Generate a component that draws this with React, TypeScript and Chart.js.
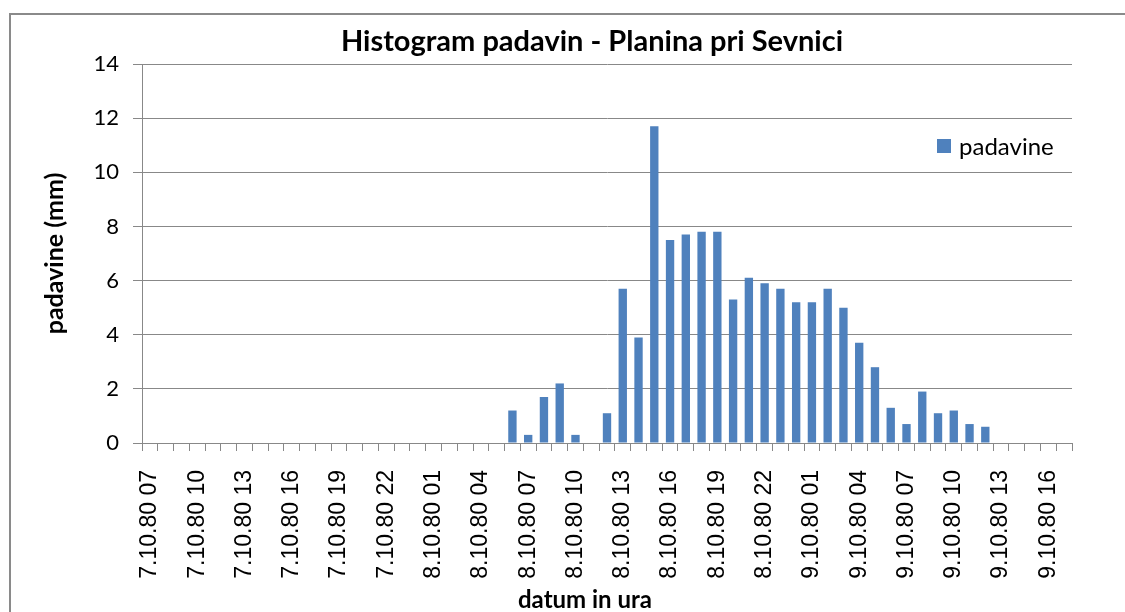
import React, { useEffect, useRef } from "react";
import { Chart, registerables } from "chart.js";

Chart.register(...registerables);

const categories: string[] = [
  "7.10.80 07", "7.10.80 08", "7.10.80 09", "7.10.80 10", "7.10.80 11", "7.10.80 12",
  "7.10.80 13", "7.10.80 14", "7.10.80 15", "7.10.80 16", "7.10.80 17", "7.10.80 18",
  "7.10.80 19", "7.10.80 20", "7.10.80 21", "7.10.80 22", "7.10.80 23", "8.10.80 00",
  "8.10.80 01", "8.10.80 02", "8.10.80 03", "8.10.80 04", "8.10.80 05", "8.10.80 06",
  "8.10.80 07", "8.10.80 08", "8.10.80 09", "8.10.80 10", "8.10.80 11", "8.10.80 12",
  "8.10.80 13", "8.10.80 14", "8.10.80 15", "8.10.80 16", "8.10.80 17", "8.10.80 18",
  "8.10.80 19", "8.10.80 20", "8.10.80 21", "8.10.80 22", "8.10.80 23", "9.10.80 00",
  "9.10.80 01", "9.10.80 02", "9.10.80 03", "9.10.80 04", "9.10.80 05", "9.10.80 06",
  "9.10.80 07", "9.10.80 08", "9.10.80 09", "9.10.80 10", "9.10.80 11", "9.10.80 12",
  "9.10.80 13", "9.10.80 14", "9.10.80 15", "9.10.80 16", "9.10.80 17",
];

const padavine: number[] = [
  0, 0, 0, 0, 0, 0, 0, 0, 0, 0, 0, 0,
  0, 0, 0, 0, 0, 0, 0, 0, 0, 0, 0, 1.2,
  0.3, 1.7, 2.2, 0.3, 0, 1.1, 5.7, 3.9, 11.7, 7.5, 7.7, 7.8,
  7.8, 5.3, 6.1, 5.9, 5.7, 5.2, 5.2, 5.7, 5.0, 3.7, 2.8, 1.3,
  0.7, 1.9, 1.1, 1.2, 0.7, 0.6, 0, 0, 0, 0, 0,
];

const yTicks = { min: 0, max: 14, step: 2 };

const TITLE = "Histogram padavin - Planina pri Sevnici";
const SERIES_NAME = "padavine";
const X_TITLE = "datum in ura";
const Y_TITLE = "padavine (mm)";

const BAR_COLOR = "#4F81BD";
const GRID_COLOR = "#888888";
const CAL = "Lato, 'Open Sans', sans-serif";
const ARIAL = "'Liberation Sans', Arial, sans-serif";

const frameTitlesLegend = {
  id: "frameTitlesLegend",
  beforeDraw(chart: any) {
    const ctx = chart.ctx;
    ctx.save();
    ctx.fillStyle = "#ffffff";
    ctx.fillRect(0, 0, chart.width, chart.height);
    ctx.strokeStyle = "#8a8a8a";
    ctx.lineWidth = 2;
    ctx.strokeRect(10, 14, chart.width + 20, chart.height + 20);
    ctx.restore();
  },
  afterDraw(chart: any) {
    const ctx = chart.ctx;
    const area = chart.chartArea;
    ctx.save();
    // chart title
    ctx.fillStyle = "#000";
    ctx.textAlign = "center";
    ctx.textBaseline = "middle";
    ctx.font = `bold 29px ${CAL}`;
    ctx.fillText(TITLE, 592, area.top - 22);
    // x axis title
    ctx.font = `bold 24px ${CAL}`;
    ctx.fillText(X_TITLE, 585, 600);
    // legend
    const x = area.right - 135;
    const y = area.top + 82;
    ctx.fillStyle = BAR_COLOR;
    ctx.fillRect(x, y - 7, 14, 14);
    ctx.fillStyle = "#000";
    ctx.font = `24px ${CAL}`;
    ctx.textAlign = "left";
    ctx.fillText(chart.data.datasets[0].label, x + 22, y + 1);
    ctx.restore();
  },
};

export default function App() {
  const ref = useRef<HTMLCanvasElement | null>(null);
  useEffect(() => {
    if (!ref.current) return;
    const chart = new Chart(ref.current, {
      type: "bar",
      data: {
        labels: categories,
        datasets: [
          {
            label: SERIES_NAME,
            data: padavine,
            backgroundColor: BAR_COLOR,
            borderWidth: 0,
            barPercentage: 0.53,
            categoryPercentage: 1,
          },
        ],
      },
      options: {
        responsive: false,
        animation: false,
        layout: { padding: { left: 0, right: 53, top: 64, bottom: 0 } },
        plugins: {
          legend: { display: false },
          tooltip: { enabled: false },
          title: { display: false },
        },
        scales: {
          x: {
            afterFit(scale: any) {
              scale.height = 169;
            },
            grid: {
              drawOnChartArea: false,
              drawTicks: true,
              tickLength: 8,
              color: GRID_COLOR,
              offset: true,
            },
            border: { color: GRID_COLOR, width: 1 },
            ticks: {
              autoSkip: false,
              minRotation: 90,
              maxRotation: 90,
              padding: 19,
              color: "#000",
              font: { family: ARIAL, size: 23 },
              callback(_v: any, i: number) {
                return i % 3 === 0 ? categories[i] : "";
              },
            },
            title: { display: false },
          },
          y: {
            min: yTicks.min,
            max: yTicks.max,
            afterFit(scale: any) {
              scale.width = 142;
            },
            grid: { color: GRID_COLOR, tickLength: 9, lineWidth: 1 },
            border: { color: GRID_COLOR, width: 1 },
            ticks: {
              stepSize: yTicks.step,
              padding: 14,
              color: "#000",
              font: { family: CAL, size: 22 },
            },
            title: {
              display: true,
              text: Y_TITLE,
              color: "#000",
              font: { family: CAL, size: 25, weight: "bold", lineHeight: 1.2 },
              padding: { top: 40, bottom: 0 },
            },
          },
        },
      },
      plugins: [frameTitlesLegend],
    });
    return () => chart.destroy();
  }, []);
  return (
    <div style={{ position: "absolute", left: 0, top: 0, width: 1125, height: 612 }}>
      <canvas ref={ref} width={1125} height={612} style={{ width: 1125, height: 612, display: "block" }} />
    </div>
  );
}
